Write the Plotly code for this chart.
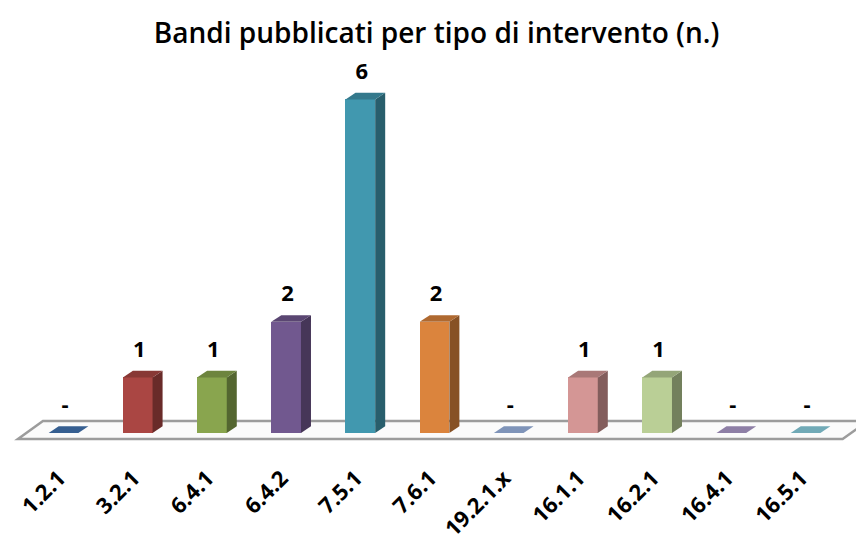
import plotly.graph_objects as go

categories = ["1.2.1", "3.2.1", "6.4.1", "6.4.2", "7.5.1", "7.6.1", "19.2.1.x", "16.1.1", "16.2.1", "16.4.1", "16.5.1"]
values = [0, 1, 1, 2, 6, 2, 0, 1, 1, 0, 0]
labels = ["-" if v == 0 else str(v) for v in values]
colors = ["#365F91", "#AA4643", "#89A54E", "#71588F", "#4198AF", "#DB843D",
          "#7F94B9", "#D49695", "#BACF96", "#8E7FA6", "#71AAB7"]

FONT = "Open Sans"


def shade(hexc, f):
    r, g, b = int(hexc[1:3], 16), int(hexc[3:5], 16), int(hexc[5:7], 16)
    return "#%02x%02x%02x" % (int(r * f), int(g * f), int(b * f))


# pseudo-3D geometry in axis units
front_l, front_r = -0.26, 0.14
dx, dy = 0.135, 0.12

fig = go.Figure()

xs = list(range(len(categories)))

# front faces
fig.add_trace(go.Bar(
    x=[i + (front_l + front_r) / 2 for i in xs], y=values,
    width=front_r - front_l,
    marker=dict(color=colors, line=dict(width=0)),
    hoverinfo="skip", showlegend=False,
))

for i, v, c in zip(xs, values, colors):
    if v > 0:
        # side face
        fig.add_trace(go.Scatter(
            x=[i + front_r, i + front_r + dx, i + front_r + dx, i + front_r, i + front_r],
            y=[0, dy, v + dy, v, 0],
            mode="lines", fill="toself", fillcolor=shade(c, 0.62),
            line=dict(width=0, color=shade(c, 0.62)),
            hoverinfo="skip", showlegend=False,
        ))
    # top face (flat marker for zero values)
    topc = shade(c, 0.8) if v > 0 else c
    fig.add_trace(go.Scatter(
        x=[i + front_l, i + front_r, i + front_r + dx, i + front_l + dx, i + front_l],
        y=[v, v, v + dy, v + dy, v],
        mode="lines", fill="toself", fillcolor=topc,
        line=dict(width=0, color=topc),
        hoverinfo="skip", showlegend=False,
    ))

# data labels
fig.add_trace(go.Scatter(
    x=[i - 0.04 for i in xs], y=[v + 0.47 for v in values],
    mode="text", text=labels,
    textfont=dict(family=FONT, size=22, color="#000000", weight="bold"),
    hoverinfo="skip", showlegend=False,
))

# floor
fig.add_shape(
    type="path",
    path="M -0.674,-0.108 L 10.44,-0.108 L 10.78,0.216 L -0.337,0.216 Z",
    xref="x", yref="y", fillcolor="#FBFBFB",
    line=dict(color="#9C9C9C", width=2.5), layer="below",
)

fig.update_layout(
    width=856, height=534,
    margin=dict(l=0, r=0, t=60, b=80, autoexpand=False),
    paper_bgcolor="white", plot_bgcolor="white",
    title=dict(text="Bandi pubblicati per tipo di intervento (n.)",
               x=0.51, xanchor="center", y=0.938, yanchor="middle",
               yref="container",
               font=dict(family=FONT, size=28, color="#000000", weight=600)),
    xaxis=dict(range=[-0.916, 10.62], tickvals=[i - 0.12 for i in xs], ticktext=categories,
               tickangle=-45, showgrid=False, zeroline=False, showline=False,
               automargin=False, ticklabelstandoff=6,
               ticks="", tickfont=dict(family=FONT, size=22, color="#000000", weight="bold")),
    yaxis=dict(range=[-0.378, 6.71], visible=False, showgrid=False, zeroline=False,
               automargin=False),
    bargap=0, hovermode=False,
)

fig.write_html(
    "out.html",
    config={"displayModeBar": False},
    post_script="document.body.style.margin='0';document.body.style.overflow='hidden';",
)
